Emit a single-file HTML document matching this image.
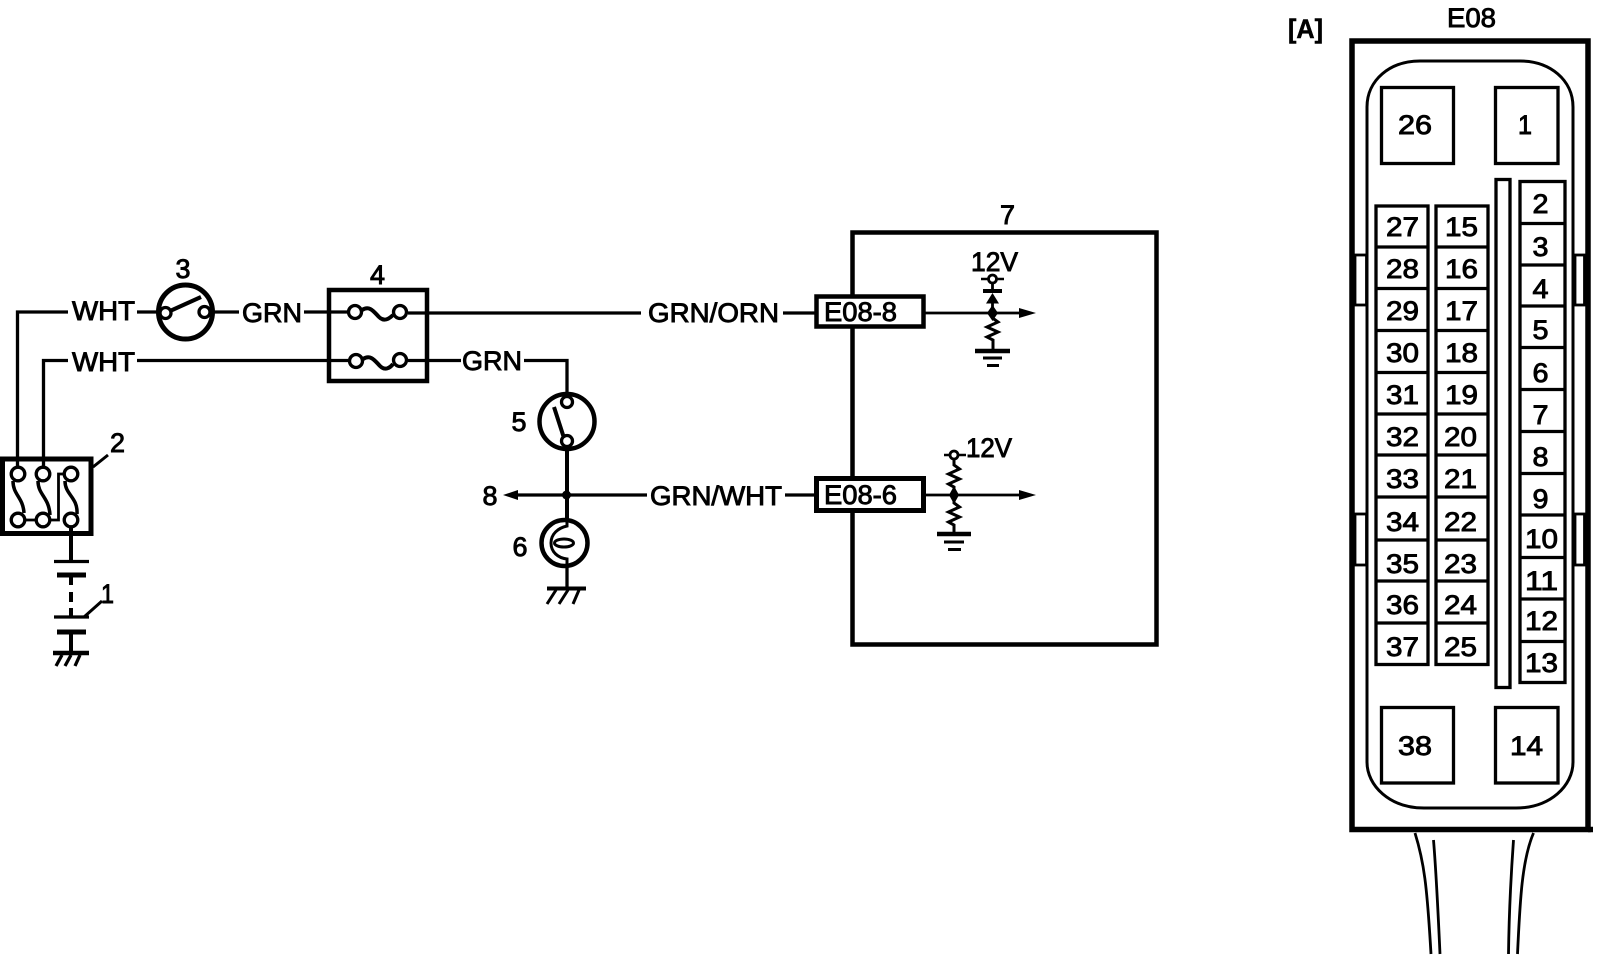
<!DOCTYPE html>
<html>
<head>
<meta charset="utf-8">
<style>
html,body{margin:0;padding:0;background:#fff;}
svg{display:block;}
text{font-family:"Liberation Sans",sans-serif;font-size:27px;fill:#000;stroke:#000;stroke-width:.9px;}
</style>
</head>
<body>
<svg width="1600" height="980" viewBox="0 0 1600 980" xmlns="http://www.w3.org/2000/svg">
<rect width="1600" height="980" fill="#fff"/>
<g fill="none" stroke="#000" stroke-width="3.3">
  <!-- wires top -->
  <path d="M17.5 468V312H68M137 312H157M213 312H239M304 312H348"/>
  <path d="M43.5 468V360.5H68M137 360.5H348"/>
  <path d="M408 313H641M783 313H815"/>
  <path d="M408 360.5H461M524 360.5H567V393"/>
  <!-- switch 3 -->
  <circle cx="185.500" cy="312" r="27" stroke-width="5"/>
  <circle cx="165.500" cy="313" r="5.500" fill="#fff"/>
  <circle cx="204.500" cy="312" r="5.500" fill="#fff"/>
  <path d="M170 311L201 297" stroke-width="4"/>
  <!-- fuse box 4 -->
  <rect x="329" y="290" width="98" height="91" stroke-width="4.5"/>
  <circle cx="355" cy="312" r="6.500" fill="#fff"/>
  <circle cx="400" cy="312" r="6.500" fill="#fff"/>
  <path d="M362 310C370 305 374 312 379 317S389 319 393 315" stroke-width="4"/>
  <circle cx="356" cy="361" r="6.500" fill="#fff"/>
  <circle cx="400" cy="360" r="6.500" fill="#fff"/>
  <path d="M363 359C371 354 375 361 380 366S390 368 393 364" stroke-width="4"/>
  <!-- fusebox 2 -->
  <rect x="2.500" y="459" width="88.500" height="74.500" stroke-width="5"/>
  <circle cx="18" cy="474" r="6.800" fill="#fff"/>
  <circle cx="43" cy="474" r="6.800" fill="#fff"/>
  <circle cx="71" cy="474" r="6.800" fill="#fff"/>
  <circle cx="18" cy="520" r="6.800" fill="#fff"/>
  <circle cx="43" cy="520" r="6.800" fill="#fff"/>
  <circle cx="71" cy="520" r="6.800" fill="#fff"/>
  <path d="M13 481C13 495 23 497 24 513" stroke-width="3.500"/>
  <path d="M38 481C38 495 49 497 50 515" stroke-width="3.500"/>
  <path d="M65 481C65 495 78 497 77 514" stroke-width="3.500"/>
  <path d="M25 520H36M50 520H58.500V474H65" stroke-width="2.800"/>
  <!-- battery -->
  <path d="M71 527V562" stroke-width="4"/>
  <path d="M54 561.500H89M54 617H89" stroke-width="3.300"/>
  <path d="M57 575H86M57 632H86" stroke-width="5"/>
  <path d="M71 575V585M71 592V602M71 608V617M71 632V653" stroke-width="4"/>
  <path d="M53 653H89" stroke-width="4.500"/>
  <path d="M62 655L56 666M71 655L65 666M80 655L75 666" stroke-width="3.300"/>
  <path d="M84 617L102 601M93 467L108 455" stroke-width="3"/>
  <!-- module box 7 -->
  <rect x="852.500" y="232.500" width="304" height="412" stroke-width="4.500"/>
  <!-- switch 5 -->
  <circle cx="567" cy="421.500" r="27.500" stroke-width="4.500"/>
  <circle cx="567" cy="402" r="5.500" fill="#fff"/>
  <circle cx="567" cy="441" r="5.500" fill="#fff"/>
  <path d="M554 407L564 438" stroke-width="4"/>
  <path d="M567 450V520" stroke-width="4"/>
  <!-- horn/lamp 6 -->
  <circle cx="564.500" cy="543" r="23" stroke-width="4.500"/>
  <path d="M567 520V526C558 528 551 534 551 543S558 558 567 559V566" stroke-width="3"/>
  <ellipse cx="564" cy="543" rx="9.500" ry="4" stroke-width="3"/>
  <path d="M567 566V588" stroke-width="3.300"/>
  <path d="M547 588.500H586" stroke-width="4"/>
  <path d="M556 590L547 604M568 590L559 604M579 590L573 604" stroke-width="3"/>
  <!-- line GRN/WHT -->
  <path d="M515 495H647M785 495H815" stroke-width="3.300"/>
  <!-- right-hand internal wires -->
  <path d="M923 313H1022M923 495H1022" stroke-width="2.800"/>
  <!-- upper internal circuit -->
  <circle cx="992.500" cy="279" r="4" fill="#fff" stroke-width="2.800"/>
  <path d="M981 279H988M997 279H1004" stroke-width="2.500"/>
  <path d="M983 291H1002" stroke-width="4"/>
  <path d="M992.500 283V292M992.500 303V318" stroke-width="2.800"/>
  <path d="M992.500 318L998 322L987 327L998 332L987 337L993 340V350" stroke-width="3"/>
  <path d="M975 351H1010" stroke-width="4.500"/>
  <path d="M983 358H1002M987 365.500H999" stroke-width="3"/>
  <!-- lower internal circuit -->
  <circle cx="954" cy="455" r="4" fill="#fff" stroke-width="2.800"/>
  <path d="M944 455H950M958 455H966" stroke-width="2.500"/>
  <path d="M954 459V465L959.500 469L948.500 474L959.500 479L948.500 484L954 487V503L959.500 507L948.500 512L959.500 517L948.500 522L954 525V534" stroke-width="3"/>
  <path d="M937 534H971" stroke-width="4.500"/>
  <path d="M944 542H964M948 549.500H961" stroke-width="3"/>
  <!-- connector -->
  <rect x="1352" y="41" width="236" height="788.500" stroke-width="5.500"/>
  <path d="M1588 829.500H1593" stroke-width="5.500"/>
  <path d="M1367 107C1367 80 1390 61 1420 61H1520C1550 61 1573 80 1573 107V762C1573 786 1550 808 1516 808H1424C1390 808 1367 786 1367 762Z" stroke-width="3"/>
  <g stroke-width="3.300">
    <rect x="1381.500" y="87.500" width="72" height="76"/>
    <rect x="1495.500" y="87.500" width="62.500" height="76"/>
    <rect x="1381.500" y="707.500" width="72" height="75.500"/>
    <rect x="1495.500" y="707.500" width="62.500" height="75.500"/>
    <rect x="1496" y="179.500" width="14" height="508"/>
    <rect x="1376" y="206" width="52" height="458.500"/>
    <rect x="1436" y="206" width="52" height="458.500"/>
    <rect x="1520" y="181.500" width="45" height="501"/>
    <path d="M1376 247H1428M1376 288.500H1428M1376 330.500H1428M1376 372.500H1428M1376 414H1428M1376 455H1428M1376 497H1428M1376 540H1428M1376 581H1428M1376 623H1428"/>
    <path d="M1436 247H1488M1436 288.500H1488M1436 330.500H1488M1436 372.500H1488M1436 414H1488M1436 455H1488M1436 497H1488M1436 540H1488M1436 581H1488M1436 623H1488"/>
    <path d="M1520 223.500H1565M1520 265H1565M1520 306H1565M1520 347.500H1565M1520 389.500H1565M1520 431.500H1565M1520 473.500H1565M1520 515H1565M1520 557.500H1565M1520 599H1565M1520 641.500H1565"/>
  </g>
  <g stroke-width="2.800">
    <rect x="1355" y="255" width="11.500" height="50"/>
    <rect x="1575" y="255" width="9.500" height="50"/>
    <rect x="1355" y="514" width="11.500" height="51"/>
    <rect x="1575" y="514" width="9.500" height="51"/>
  </g>
  <g stroke-width="2.800">
    <path d="M1415 833C1424 862 1427 885 1431 954"/>
    <path d="M1433.500 840C1436 870 1438 910 1440 954"/>
    <path d="M1513.500 840C1511 875 1509 915 1508.500 954"/>
    <path d="M1533.500 833C1522 860 1520 900 1517.500 954"/>
  </g>
</g>
<rect x="816.500" y="296.500" width="107" height="30" fill="#fff" stroke="#000" stroke-width="4.500"/>
<rect x="816.500" y="478.500" width="107" height="32" fill="#fff" stroke="#000" stroke-width="5"/>
<!-- arrowheads and junctions -->
<g fill="#000" stroke="none">
  <path d="M1036 313L1019 308V318Z"/>
  <path d="M1036 495L1019 490V500Z"/>
  <path d="M503 495L518 490V500Z"/>
  <path d="M992.500 293L986 303.500H999Z"/>
  <path d="M992.500 305L998 313L992.500 321L987 313Z"/>
  <path d="M954 486L959 495L954 504L949 495Z"/>
  <circle cx="566.500" cy="495" r="4.500"/>
</g>
<!-- wire labels -->
<text x="72" y="320" textLength="63" lengthAdjust="spacingAndGlyphs">WHT</text>
<text x="72" y="371" textLength="63" lengthAdjust="spacingAndGlyphs">WHT</text>
<text x="242" y="322" textLength="60" lengthAdjust="spacingAndGlyphs">GRN</text>
<text x="462" y="370" textLength="60" lengthAdjust="spacingAndGlyphs">GRN</text>
<text x="648" y="322" textLength="131" lengthAdjust="spacingAndGlyphs">GRN/ORN</text>
<text x="650" y="505" textLength="132" lengthAdjust="spacingAndGlyphs">GRN/WHT</text>
<text x="824" y="321" textLength="73" lengthAdjust="spacingAndGlyphs">E08-8</text>
<text x="824" y="504" textLength="73" lengthAdjust="spacingAndGlyphs">E08-6</text>
<text x="971" y="271" textLength="47" lengthAdjust="spacingAndGlyphs">12V</text>
<text x="966" y="457" textLength="46" lengthAdjust="spacingAndGlyphs">12V</text>
<!-- callouts -->
<text x="175.500" y="278" textLength="15" lengthAdjust="spacingAndGlyphs">3</text>
<text x="370" y="284" textLength="15" lengthAdjust="spacingAndGlyphs">4</text>
<text x="110" y="452" textLength="15" lengthAdjust="spacingAndGlyphs">2</text>
<text x="101" y="603" textLength="13" lengthAdjust="spacingAndGlyphs">1</text>
<text x="511.500" y="431" textLength="15" lengthAdjust="spacingAndGlyphs">5</text>
<text x="512.500" y="556" textLength="15" lengthAdjust="spacingAndGlyphs">6</text>
<text x="482.500" y="505" textLength="15" lengthAdjust="spacingAndGlyphs">8</text>
<text x="1000" y="224" textLength="15" lengthAdjust="spacingAndGlyphs">7</text>
<text x="1447" y="27" textLength="49" lengthAdjust="spacingAndGlyphs">E08</text>
<text x="1288" y="38" textLength="35" lengthAdjust="spacingAndGlyphs" style="font-weight:bold;stroke-width:.5px">[A]</text>
<!-- pin numbers -->
<g>
<text x="1398" y="134" textLength="34" lengthAdjust="spacingAndGlyphs">26</text>
<text x="1518" y="134" textLength="14" lengthAdjust="spacingAndGlyphs">1</text>
<text x="1398" y="755" textLength="34" lengthAdjust="spacingAndGlyphs">38</text>
<text x="1510" y="755" textLength="33" lengthAdjust="spacingAndGlyphs">14</text>

<text x="1386" y="236" textLength="33" lengthAdjust="spacingAndGlyphs">27</text>
<text x="1386" y="278" textLength="33" lengthAdjust="spacingAndGlyphs">28</text>
<text x="1386" y="320" textLength="33" lengthAdjust="spacingAndGlyphs">29</text>
<text x="1386" y="362" textLength="33" lengthAdjust="spacingAndGlyphs">30</text>
<text x="1386" y="404" textLength="33" lengthAdjust="spacingAndGlyphs">31</text>
<text x="1386" y="446" textLength="33" lengthAdjust="spacingAndGlyphs">32</text>
<text x="1386" y="488" textLength="33" lengthAdjust="spacingAndGlyphs">33</text>
<text x="1386" y="531" textLength="33" lengthAdjust="spacingAndGlyphs">34</text>
<text x="1386" y="573" textLength="33" lengthAdjust="spacingAndGlyphs">35</text>
<text x="1386" y="614" textLength="33" lengthAdjust="spacingAndGlyphs">36</text>
<text x="1386" y="656" textLength="33" lengthAdjust="spacingAndGlyphs">37</text>

<text x="1445" y="236" textLength="33" lengthAdjust="spacingAndGlyphs">15</text>
<text x="1445" y="278" textLength="33" lengthAdjust="spacingAndGlyphs">16</text>
<text x="1445" y="320" textLength="33" lengthAdjust="spacingAndGlyphs">17</text>
<text x="1445" y="362" textLength="33" lengthAdjust="spacingAndGlyphs">18</text>
<text x="1445" y="404" textLength="33" lengthAdjust="spacingAndGlyphs">19</text>
<text x="1444" y="446" textLength="33" lengthAdjust="spacingAndGlyphs">20</text>
<text x="1444" y="488" textLength="33" lengthAdjust="spacingAndGlyphs">21</text>
<text x="1444" y="531" textLength="33" lengthAdjust="spacingAndGlyphs">22</text>
<text x="1444" y="573" textLength="33" lengthAdjust="spacingAndGlyphs">23</text>
<text x="1444" y="614" textLength="33" lengthAdjust="spacingAndGlyphs">24</text>
<text x="1444" y="656" textLength="33" lengthAdjust="spacingAndGlyphs">25</text>

<text x="1532.500" y="213" textLength="16" lengthAdjust="spacingAndGlyphs">2</text>
<text x="1532.500" y="256" textLength="16" lengthAdjust="spacingAndGlyphs">3</text>
<text x="1532.500" y="298" textLength="16" lengthAdjust="spacingAndGlyphs">4</text>
<text x="1532.500" y="339" textLength="16" lengthAdjust="spacingAndGlyphs">5</text>
<text x="1532.500" y="382" textLength="16" lengthAdjust="spacingAndGlyphs">6</text>
<text x="1532.500" y="424" textLength="16" lengthAdjust="spacingAndGlyphs">7</text>
<text x="1532.500" y="466" textLength="16" lengthAdjust="spacingAndGlyphs">8</text>
<text x="1532.500" y="508" textLength="16" lengthAdjust="spacingAndGlyphs">9</text>
<text x="1525" y="548" textLength="33" lengthAdjust="spacingAndGlyphs">10</text>
<text x="1525" y="590" textLength="33" lengthAdjust="spacingAndGlyphs">11</text>
<text x="1525" y="630" textLength="33" lengthAdjust="spacingAndGlyphs">12</text>
<text x="1525" y="672" textLength="33" lengthAdjust="spacingAndGlyphs">13</text>
</g>
</svg>
</body>
</html>
